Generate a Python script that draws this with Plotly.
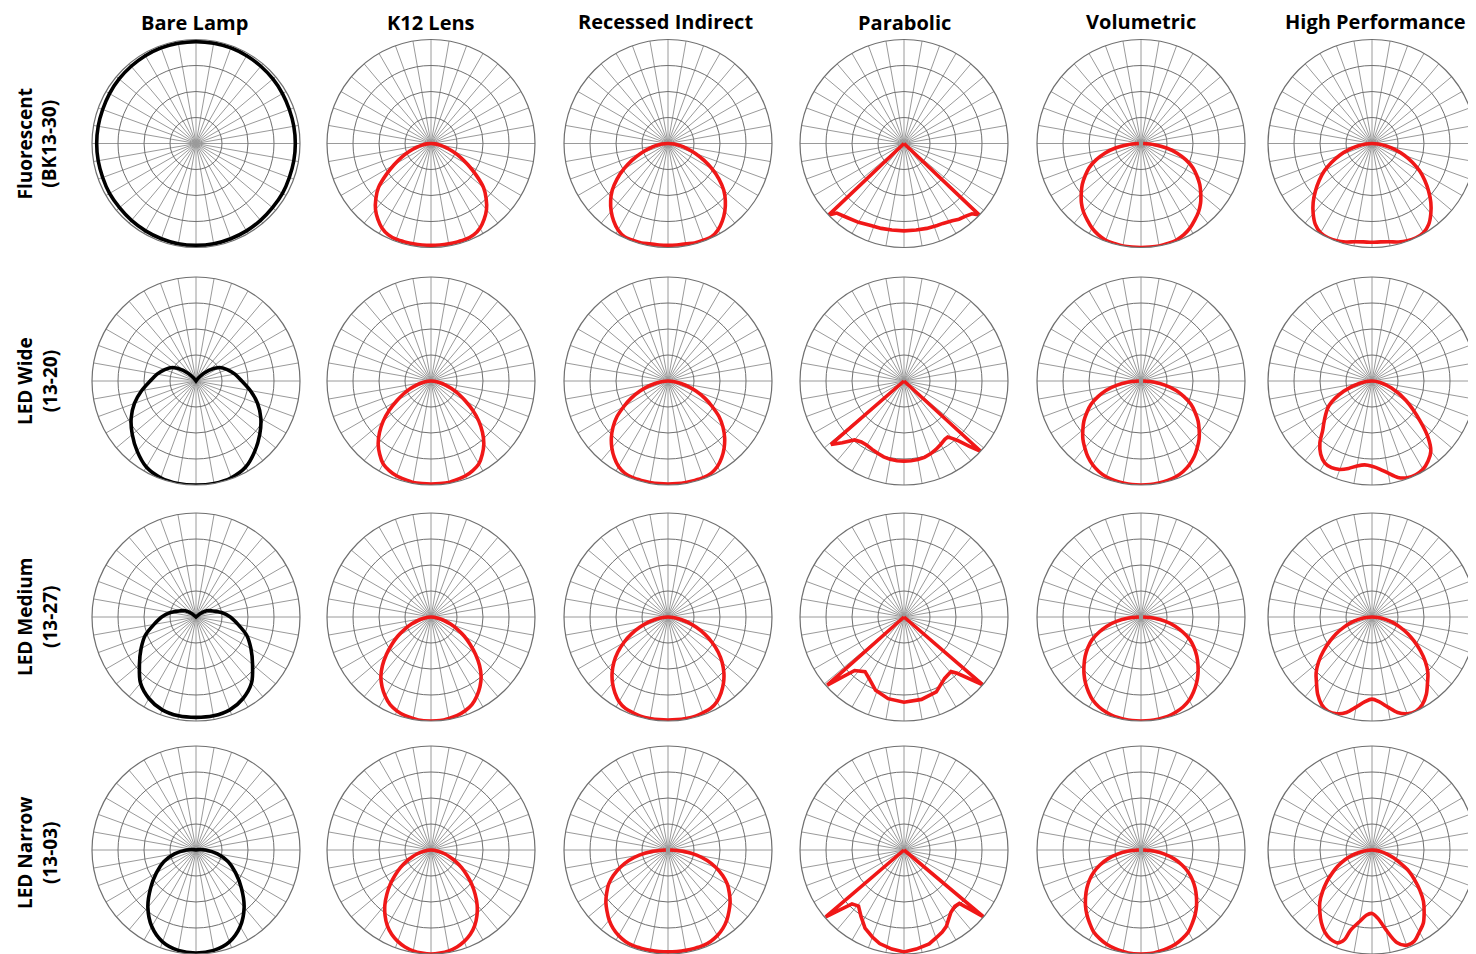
import plotly.graph_objects as go

# ---------------- data ----------------
COL_TITLES = ["Bare Lamp", "K12 Lens", "Recessed Indirect", "Parabolic", "Volumetric", "High Performance"]
ROW_TITLES = [("Fluorescent", "(BK13-30)"), ("LED Wide", "(13-20)"), ("LED Medium", "(13-27)"), ("LED Narrow", "(13-03)")]

# half-angle grids (degrees from nadir), mirrored for symmetric curves
ANG_BARE = [0, 10, 20, 30, 40, 50, 60, 70, 80, 90, 100, 110, 120, 130, 140, 150, 160, 170, 180]
ANG_HALF = [0, 5, 10, 15, 20, 25, 30, 35, 40, 45, 50, 55, 60, 65, 70, 75, 80, 85, 90]

# Bare lamp (relative intensity, outer ring = 1)
BARE_FLUOR = [0.98, 0.98, 0.975, 0.97, 0.965, 0.96, 0.96, 0.955, 0.955, 0.955, 0.955, 0.955, 0.96, 0.965, 0.97, 0.975, 0.98, 0.98, 0.98]
BARE_WIDE = [1.0, 1.0, 0.99, 0.955, 0.88, 0.80, 0.72, 0.63, 0.53, 0.44, 0.38, 0.32, 0.26, 0.16, 0.05, 0, 0, 0, 0]
BARE_MED = [0.965, 0.965, 0.95, 0.905, 0.83, 0.71, 0.61, 0.52, 0.41, 0.33, 0.25, 0.17, 0.12, 0.05, 0, 0, 0, 0, 0]
BARE_NARROW = [0.99, 0.98, 0.94, 0.85, 0.72, 0.57, 0.44, 0.33, 0.21, 0.09, 0.02, 0, 0, 0, 0, 0, 0, 0, 0]

# K12 lens
K12_FLUOR = [0.98, 0.98, 0.98, 0.98, 0.98, 0.97, 0.94, 0.89, 0.83, 0.75, 0.66, 0.53, 0.41, 0.31, 0.22, 0.15, 0.09, 0.04, 0]
K12_WIDE = [0.99, 0.99, 0.99, 0.98, 0.97, 0.95, 0.92, 0.86, 0.79, 0.70, 0.60, 0.49, 0.38, 0.29, 0.21, 0.14, 0.08, 0.03, 0]
K12_MED = [1.0, 1.0, 0.99, 0.98, 0.96, 0.93, 0.88, 0.82, 0.75, 0.66, 0.56, 0.46, 0.37, 0.28, 0.20, 0.13, 0.07, 0.03, 0]
K12_NARROW = [1.0, 0.995, 0.985, 0.965, 0.935, 0.895, 0.84, 0.77, 0.69, 0.60, 0.51, 0.42, 0.34, 0.26, 0.19, 0.13, 0.07, 0.03, 0]

# Recessed indirect
REC_FLUOR = [0.98, 0.98, 0.98, 0.99, 0.99, 0.99, 0.96, 0.91, 0.85, 0.78, 0.70, 0.60, 0.49, 0.38, 0.28, 0.19, 0.12, 0.06, 0]
REC_WIDE = [0.99, 0.99, 0.99, 0.99, 0.99, 0.98, 0.95, 0.90, 0.84, 0.77, 0.69, 0.60, 0.49, 0.39, 0.29, 0.20, 0.12, 0.05, 0]
REC_MED = [0.99, 0.99, 0.99, 0.99, 0.98, 0.97, 0.94, 0.89, 0.83, 0.76, 0.68, 0.59, 0.49, 0.39, 0.29, 0.20, 0.12, 0.05, 0]
REC_NARROW = [0.98, 0.98, 0.98, 0.98, 0.98, 0.97, 0.95, 0.92, 0.88, 0.83, 0.78, 0.72, 0.66, 0.58, 0.49, 0.39, 0.28, 0.15, 0.02]

# Volumetric
VOL_FLUOR = [1.0, 1.0, 1.0, 0.995, 0.99, 0.97, 0.94, 0.90, 0.86, 0.81, 0.75, 0.69, 0.62, 0.55, 0.46, 0.36, 0.25, 0.13, 0.02]
VOL_WIDE = [1.0, 1.0, 0.995, 0.99, 0.98, 0.96, 0.93, 0.89, 0.84, 0.79, 0.73, 0.67, 0.60, 0.53, 0.44, 0.35, 0.24, 0.12, 0.02]
VOL_MED = [1.0, 1.0, 0.995, 0.99, 0.975, 0.955, 0.925, 0.88, 0.83, 0.775, 0.715, 0.655, 0.59, 0.52, 0.43, 0.34, 0.24, 0.12, 0.02]
VOL_NARROW = [1.0, 1.0, 0.99, 0.98, 0.965, 0.94, 0.91, 0.86, 0.81, 0.755, 0.695, 0.635, 0.57, 0.50, 0.42, 0.33, 0.23, 0.12, 0.02]

# High performance
HP_FLUOR = [0.95, 0.95, 0.96, 0.98, 0.995, 1.0, 0.99, 0.95, 0.88, 0.80, 0.71, 0.62, 0.53, 0.43, 0.33, 0.23, 0.14, 0.06, 0]
HP_MED = [0.79, 0.82, 0.88, 0.95, 0.99, 1.0, 0.97, 0.91, 0.83, 0.76, 0.67, 0.57, 0.47, 0.38, 0.29, 0.21, 0.13, 0.06, 0]
HP_WIDE_ANG = [-90, -80, -70, -60, -50, -45, -40, -35, -30, -25, -20, -15, -10, -5, 0, 5, 10, 15, 20, 25, 30, 35, 40, 45, 50, 60, 70, 80, 90]
HP_WIDE = [0, 0.12, 0.29, 0.48, 0.60, 0.67, 0.78, 0.86, 0.91, 0.92, 0.905, 0.87, 0.83, 0.81, 0.82, 0.85, 0.90, 0.96, 0.99, 0.995, 0.98, 0.94, 0.88, 0.76, 0.61, 0.38, 0.20, 0.08, 0]
HP_NARROW_ANG = [-90, -85, -80, -75, -70, -65, -60, -55, -50, -45, -40, -35, -30, -25, -20, -17, -15, -10, -5, 0, 5, 10, 15, 20, 25, 30, 35, 40, 45, 50, 55, 60, 65, 70, 75, 80, 85, 90]
HP_NARROW = [0, 0.05, 0.12, 0.20, 0.28, 0.36, 0.44, 0.53, 0.62, 0.71, 0.78, 0.85, 0.91, 0.945, 0.95, 0.90, 0.80, 0.70, 0.63, 0.61, 0.66, 0.78, 0.92, 0.975, 0.965, 0.91, 0.86, 0.78, 0.70, 0.60, 0.50, 0.41, 0.30, 0.22, 0.15, 0.09, 0.04, 0]

# Parabolic (sharp cut-off, full -90..90)
PAR_FLUOR_ANG = [-90, -46.5, -44, -38, -30, -22, -15, -8, 0, 8, 15, 22, 26, 32, 36, 40, 44, 46.5, 90]
PAR_FLUOR = [0, 1.0, 0.93, 0.90, 0.875, 0.85, 0.845, 0.84, 0.84, 0.84, 0.845, 0.85, 0.855, 0.875, 0.90, 0.915, 0.94, 1.0, 0]
PAR_WIDE_ANG = [-90, -49, -45, -40, -35, -30, -25, -20, -15, -10, -5, 0, 5, 10, 15, 20, 25, 30, 35, 38, 40, 42, 45, 47.5, 90]
PAR_WIDE = [0, 0.93, 0.84, 0.74, 0.715, 0.713, 0.725, 0.74, 0.755, 0.765, 0.77, 0.77, 0.77, 0.767, 0.76, 0.745, 0.727, 0.705, 0.685, 0.684, 0.72, 0.77, 0.89, 1.0, 0]
PAR_MED_ANG = [-90, -48.4, -42.7, -35.5, -29.6, -21.2, -11, 0, 12, 23.3, 33.5, 40.7, 43.4, 49.3, 90]
PAR_MED = [0, 0.987, 0.70, 0.645, 0.68, 0.756, 0.80, 0.82, 0.81, 0.785, 0.708, 0.693, 0.745, 1.0, 0]
PAR_NARROW_ANG = [-90, -49.5, -44, -39, -33, -26.5, -20, -14.6, -7, 0, 7, 15, 20, 25, 29, 33, 37, 42, 46, 50, 90]
PAR_NARROW = [0, 0.99, 0.72, 0.695, 0.76, 0.84, 0.89, 0.93, 0.96, 0.98, 0.96, 0.935, 0.90, 0.87, 0.84, 0.79, 0.75, 0.73, 0.74, 1.0, 0]

# ---------------- helpers ----------------
def mirror(ang, r):
    return [-a for a in ang[::-1]] + ang[1:], r[::-1] + r[1:]

BLACK = "#000000"
RED = "#f01818"
RING = "#6f6f6f"
SPOKE = "#9a9a9a"

curves = [
    [(mirror(ANG_BARE, BARE_FLUOR), BLACK, "spline"), (mirror(ANG_HALF, K12_FLUOR), RED, "spline"),
     (mirror(ANG_HALF, REC_FLUOR), RED, "spline"), ((PAR_FLUOR_ANG, PAR_FLUOR), RED, "linear"),
     (mirror(ANG_HALF, VOL_FLUOR), RED, "spline"), (mirror(ANG_HALF, HP_FLUOR), RED, "spline")],
    [(mirror(ANG_BARE, BARE_WIDE), BLACK, "spline"), (mirror(ANG_HALF, K12_WIDE), RED, "spline"),
     (mirror(ANG_HALF, REC_WIDE), RED, "spline"), ((PAR_WIDE_ANG, PAR_WIDE), RED, "linear"),
     (mirror(ANG_HALF, VOL_WIDE), RED, "spline"), ((HP_WIDE_ANG, HP_WIDE), RED, "spline")],
    [(mirror(ANG_BARE, BARE_MED), BLACK, "spline"), (mirror(ANG_HALF, K12_MED), RED, "spline"),
     (mirror(ANG_HALF, REC_MED), RED, "spline"), ((PAR_MED_ANG, PAR_MED), RED, "linear"),
     (mirror(ANG_HALF, VOL_MED), RED, "spline"), (mirror(ANG_HALF, HP_MED), RED, "spline")],
    [(mirror(ANG_BARE, BARE_NARROW), BLACK, "spline"), (mirror(ANG_HALF, K12_NARROW), RED, "spline"),
     (mirror(ANG_HALF, REC_NARROW), RED, "spline"), ((PAR_NARROW_ANG, PAR_NARROW), RED, "linear"),
     (mirror(ANG_HALF, VOL_NARROW), RED, "spline"), ((HP_NARROW_ANG, HP_NARROW), RED, "spline")],
]

# ---------------- layout geometry (screen pixels; page body adds an 8px margin) ----------------
OFF = 8
W, H = 1476 - OFF, 954 - OFF
R = 104
COL_CX = [196, 431, 668, 904, 1141, 1378]
ROW_CY = [143.5, 381, 617, 853]
TITLE_X = [194, 431, 665, 904, 1141, 1375]
TITLE_Y = [23, 23, 22, 23, 22, 22]

fig = go.Figure()
layout_polars = {}
n = 0
for i, cy_s in enumerate(ROW_CY):
    for j, cx_s in enumerate(COL_CX):
        n += 1
        name = "polar" if n == 1 else f"polar{n}"
        cx = min(max(cx_s - OFF, R), W - R)
        cy = min(max(cy_s - OFF, R), H - R)
        x0, x1 = (cx - R) / W, (cx + R) / W
        y0, y1 = 1 - (cy + R) / H, 1 - (cy - R) / H
        layout_polars[name] = dict(
            domain=dict(x=[max(0, x0), min(1, x1)], y=[max(0, y0), min(1, y1)]),
            bgcolor="white",
            radialaxis=dict(range=[0, 1], tickvals=[0.25, 0.5, 0.75], showticklabels=False,
                            ticks="", showline=False, gridcolor=RING, gridwidth=1.2),
            angularaxis=dict(rotation=-90, direction="counterclockwise", tickmode="linear",
                             tick0=0, dtick=10, showticklabels=False, ticks="",
                             gridcolor=SPOKE, gridwidth=1.1, showline=True, linecolor=RING, linewidth=1.2),
        )
        (theta, r), color, shape = curves[i][j]
        fig.add_trace(go.Scatterpolar(
            theta=theta, r=r, mode="lines", subplot=name,
            line=dict(color=color, width=3.6, shape=shape, smoothing=0.9 if shape == "spline" else None),
            showlegend=False, hoverinfo="skip"))

annotations = []
for j, t in enumerate(COL_TITLES):
    annotations.append(dict(text=f"<b>{t}</b>", x=(TITLE_X[j] - OFF) / W,
                            y=1 - (TITLE_Y[j] - OFF) / H, xref="paper", yref="paper",
                            xanchor="center", yanchor="middle", showarrow=False, borderpad=0,
                            font=dict(family="Open Sans", size=20, color="black")))
for i, (a, b) in enumerate(ROW_TITLES):
    annotations.append(dict(text=f"<b>{a}</b><br><b>{b}</b>", x=(37 - OFF) / W, y=1 - (ROW_CY[i] - OFF) / H,
                            xref="paper", yref="paper", xanchor="center", yanchor="middle",
                            textangle=-90, showarrow=False,
                            font=dict(family="Open Sans", size=19, color="black")))

fig.update_layout(width=W, height=H, margin=dict(l=0, r=0, t=0, b=0),
                  paper_bgcolor="white", plot_bgcolor="white",
                  annotations=annotations, **layout_polars)

fig.write_html("out.html")
